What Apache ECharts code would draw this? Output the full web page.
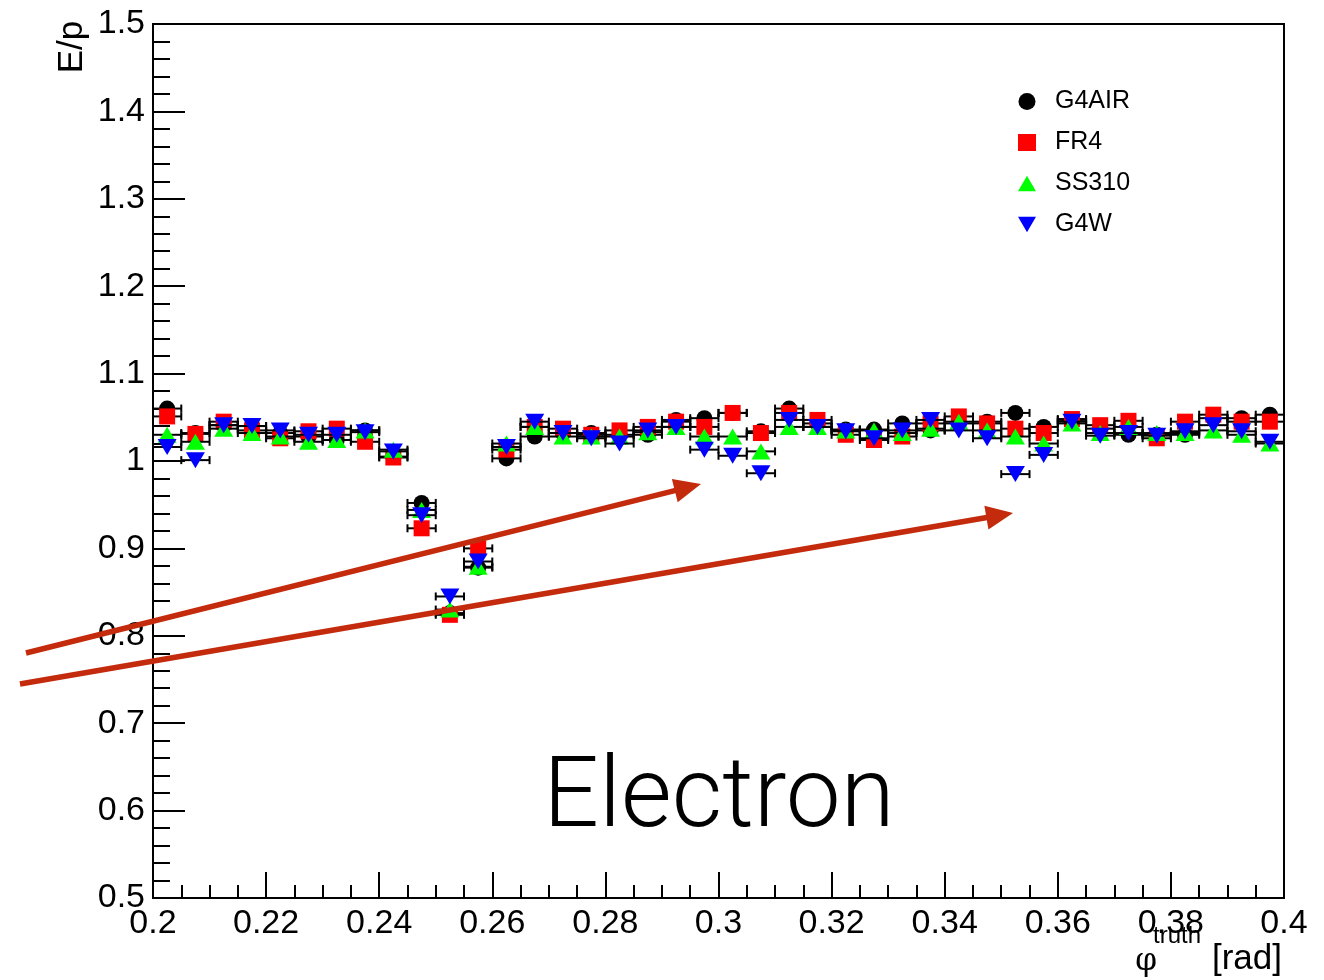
<!DOCTYPE html>
<html>
<head>
<meta charset="utf-8">
<title>E/p vs phi truth</title>
<script src="https://cdn.jsdelivr.net/npm/echarts@6/dist/echarts.min.js"></script>
<style>
  html, body { margin: 0; padding: 0; background: #ffffff; }
  #chart { width: 1324px; height: 980px; }
</style>
</head>
<body>
<div id="chart"></div>
<script>
// Bin centres in phi^truth [rad]; each bin is 0.005 wide
const phiBins = [
  0.2025, 0.2075, 0.2125, 0.2175, 0.2225, 0.2275, 0.2325, 0.2375, 0.2425, 0.2475,
  0.2525, 0.2575, 0.2625, 0.2675, 0.2725, 0.2775, 0.2825, 0.2875, 0.2925, 0.2975,
  0.3025, 0.3075, 0.3125, 0.3175, 0.3225, 0.3275, 0.3325, 0.3375, 0.3425, 0.3475,
  0.3525, 0.3575, 0.3625, 0.3675, 0.3725, 0.3775, 0.3825, 0.3875, 0.3925, 0.3975
];
const binHalfWidth = 0.0025;

// Mean E/p per bin for each material configuration
const g4air = [
  1.060, 1.032, 1.041, 1.040, 1.032, 1.028, 1.024, 1.035, 1.005, 0.952,
  0.826, 0.878, 1.003, 1.028, 1.032, 1.032, 1.030, 1.030, 1.047, 1.049,
  1.055, 1.034, 1.060, 1.043, 1.036, 1.036, 1.043, 1.035, 1.043, 1.045,
  1.055, 1.039, 1.047, 1.037, 1.030, 1.030, 1.030, 1.049, 1.049, 1.053
];
const fr4 = [
  1.051, 1.031, 1.045, 1.035, 1.026, 1.034, 1.037, 1.022, 1.004, 0.923,
  0.824, 0.900, 1.013, 1.039, 1.037, 1.030, 1.035, 1.039, 1.045, 1.039,
  1.055, 1.032, 1.055, 1.047, 1.030, 1.024, 1.028, 1.043, 1.051, 1.043,
  1.037, 1.032, 1.048, 1.041, 1.046, 1.026, 1.045, 1.053, 1.045, 1.045
];
const ss310 = [
  1.030, 1.022, 1.037, 1.032, 1.028, 1.022, 1.024, 1.035, 1.013, 0.944,
  0.830, 0.879, 1.020, 1.039, 1.028, 1.028, 1.028, 1.033, 1.039, 1.028,
  1.028, 1.011, 1.039, 1.039, 1.035, 1.035, 1.032, 1.037, 1.045, 1.035,
  1.028, 1.020, 1.043, 1.032, 1.039, 1.032, 1.032, 1.035, 1.030, 1.020
];
const g4w = [
  1.016, 1.001, 1.041, 1.040, 1.035, 1.030, 1.030, 1.033, 1.011, 0.938,
  0.845, 0.885, 1.016, 1.045, 1.032, 1.026, 1.020, 1.035, 1.039, 1.013,
  1.006, 0.986, 1.047, 1.039, 1.034, 1.026, 1.035, 1.047, 1.035, 1.026,
  0.985, 1.007, 1.045, 1.029, 1.032, 1.029, 1.034, 1.041, 1.034, 1.022
];

// Axis ranges and ticks
const xRange = [0.2, 0.4];
const xStep = 0.02;
const yRange = [0.5, 1.5];
const yStep = 0.1;

// Annotation arrows, endpoints in data units (tail, tip)
const arrows = [
  { from: [0.17754, 0.78032], to: [0.29690, 0.97368] },
  { from: [0.17648, 0.74485], to: [0.35208, 0.94050] }
];

const downTriangle = 'path://M0,0 L20,0 L10,17 Z';
const upTriangle = 'path://M10,0 L20,17 L0,17 Z';

const materials = [
  { name: 'G4AIR', values: g4air, color: '#000000', symbol: 'circle', size: 16 },
  { name: 'FR4', values: fr4, color: '#ff0000', symbol: 'rect', size: 16 },
  { name: 'SS310', values: ss310, color: '#00ff00', symbol: upTriangle, size: [19, 16] },
  { name: 'G4W', values: g4w, color: '#0000ff', symbol: downTriangle, size: [19, 16] }
];

const font = '"Liberation Sans", Arial, Helvetica, sans-serif';

// Horizontal bin-width bars with end caps
function errorBarRenderer(params, api) {
  const x = api.value(0), y = api.value(1);
  const left = api.coord([x - binHalfWidth, y]);
  const right = api.coord([x + binHalfWidth, y]);
  const cap = 4;
  const style = { stroke: '#000000', lineWidth: 2 };
  return {
    type: 'group',
    children: [
      { type: 'line', shape: { x1: left[0], y1: left[1], x2: right[0], y2: right[1] }, style },
      { type: 'line', shape: { x1: left[0], y1: left[1] - cap, x2: left[0], y2: left[1] + cap }, style },
      { type: 'line', shape: { x1: right[0], y1: right[1] - cap, x2: right[0], y2: right[1] + cap }, style }
    ]
  };
}

const series = [];
materials.forEach((m, i) => {
  const pts = phiBins.map((x, k) => [x, m.values[k]]);
  series.push({
    type: 'custom',
    renderItem: errorBarRenderer,
    data: pts,
    z: 2 + 2 * i,
    silent: true,
    clip: true
  });
  series.push({
    name: m.name,
    type: 'scatter',
    data: pts,
    symbol: m.symbol,
    symbolSize: m.size,
    itemStyle: { color: m.color, opacity: 1 },
    z: 3 + 2 * i,
    silent: true
  });
});

const chart = echarts.init(document.getElementById('chart'), null, { renderer: 'canvas' });

chart.setOption({
  animation: false,
  backgroundColor: '#ffffff',
  grid: {
    left: 153, right: 40, top: 24, bottom: 82,
    show: true, borderColor: '#000000', borderWidth: 2, backgroundColor: 'transparent'
  },
  xAxis: {
    type: 'value',
    min: xRange[0], max: xRange[1], interval: xStep,
    axisLine: { show: true, onZero: false, lineStyle: { color: '#000', width: 2 } },
    axisTick: { show: true, inside: true, length: 26, lineStyle: { color: '#000', width: 2 } },
    minorTick: { show: true, splitNumber: 4, length: 13, lineStyle: { color: '#000', width: 2 } },
    splitLine: { show: false },
    axisLabel: { color: '#000', fontFamily: font, fontSize: 34, margin: 9 }
  },
  yAxis: {
    type: 'value',
    min: yRange[0], max: yRange[1], interval: yStep,
    axisLine: { show: true, onZero: false, lineStyle: { color: '#000', width: 2 } },
    axisTick: { show: true, inside: true, length: 32, lineStyle: { color: '#000', width: 2 } },
    minorTick: { show: true, splitNumber: 5, length: 17, lineStyle: { color: '#000', width: 2 } },
    splitLine: { show: false },
    axisLabel: { color: '#000', fontFamily: font, fontSize: 34, margin: 8 }
  },
  legend: {
    data: materials.map(m => m.name),
    orient: 'vertical',
    left: 1013, top: 84,
    itemWidth: 18, itemHeight: 17,
    itemGap: 16,
    textStyle: { color: '#000', fontFamily: font, fontSize: 25, lineHeight: 25, padding: [0, 0, 0, 14] },
    selectedMode: false,
    inactiveColor: '#000'
  },
  series
});

function arrowGraphics() {
  const color = '#c42a0c';
  const out = [];
  arrows.forEach(a => {
    const p0 = chart.convertToPixel({ gridIndex: 0 }, a.from);
    const p1 = chart.convertToPixel({ gridIndex: 0 }, a.to);
    const dx = p1[0] - p0[0], dy = p1[1] - p0[1];
    const len = Math.hypot(dx, dy);
    const ux = dx / len, uy = dy / len;
    const headLen = 27, headHalf = 12;
    const bx = p1[0] - ux * headLen, by = p1[1] - uy * headLen;
    out.push({
      type: 'line', z: 50,
      shape: { x1: p0[0], y1: p0[1], x2: bx + ux * 2, y2: by + uy * 2 },
      style: { stroke: color, lineWidth: 5.5 }
    });
    out.push({
      type: 'polygon', z: 50,
      shape: { points: [[p1[0], p1[1]], [bx - uy * headHalf, by + ux * headHalf], [bx + uy * headHalf, by - ux * headHalf]] },
      style: { fill: color }
    });
  });
  return out;
}

chart.setOption({
  graphic: [
    {
      type: 'text', x: 72, y: 47, rotation: Math.PI / 2, z: 60,
      style: { text: 'E/p', fill: '#000', font: '35px ' + font, align: 'center', verticalAlign: 'middle' }
    },
    {
      type: 'text', x: 1282, y: 959, z: 60,
      style: { text: '[rad]', fill: '#000', font: '35px ' + font, align: 'right', verticalAlign: 'middle' }
    },
    {
      type: 'text', x: 1153, y: 936, z: 60,
      style: { text: 'truth', fill: '#000', font: '24px ' + font, align: 'left', verticalAlign: 'middle' }
    },
    {
      type: 'text', x: 1146, y: 962, z: 60,
      style: { text: 'φ', fill: '#000', font: '31px "DejaVu Serif", "Liberation Serif", serif', align: 'center', verticalAlign: 'middle' }
    },
    {
      type: 'text', x: 719, y: 801, z: 60,
      style: { text: 'Electron', fill: '#000', font: '300 98px Roboto, "Liberation Sans", sans-serif', align: 'center', verticalAlign: 'middle' }
    }
  ].concat(arrowGraphics())
});
</script>
</body>
</html>
